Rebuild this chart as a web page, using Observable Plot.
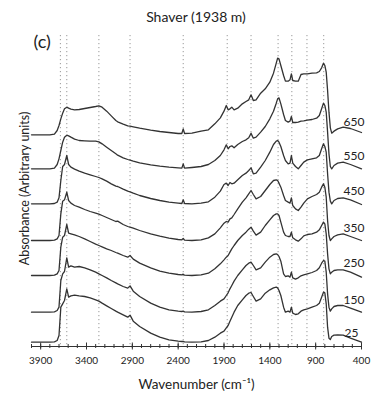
<!DOCTYPE html>
<html><head><meta charset="utf-8">
<script src="https://cdn.jsdelivr.net/npm/d3@7"></script>
<script src="https://cdn.jsdelivr.net/npm/@observablehq/plot@0.6"></script>
<style>
html,body{margin:0;padding:0;background:#fff;}
#title{box-sizing:border-box;width:376px;height:30px;padding:8px 0 0 16px;text-align:center;font-family:Lato,sans-serif;font-size:14px;line-height:18px;color:#222;}
#chart svg{display:block;}
</style></head><body>
<div id="title">Shaver (1938 m)</div>
<div id="chart"></div>
<script>
const wavenumbers = [4000,3800,3750,3720,3700,3680,3660,3640,3615,3595,
  3570,3530,3480,3420,3360,3300,3265,3230,3180,3130,
  3080,3060,3000,2950,2925,2890,2820,2700,2600,2500,
  2400,2360,2345,2330,2250,2150,2070,2000,1940,1900,
  1875,1855,1835,1815,1790,1750,1700,1660,1630,1605,
  1580,1550,1500,1450,1400,1360,1330,1315,1300,1280,
  1250,1230,1200,1180,1165,1150,1120,1090,1060,1030,
  990,940,890,860,835,815,800,785,770,755,
  740,725,700,660,600,520,400];

const temps = ["650","550","450","350","250","150","25"];
const offsets = [635,533,428,318,213,103,13];

const s650 = [0,0,2,13,28,48,65,78,83,80,
  77,75,76,79,82,85,87,83,71,57,
  43,39,32,27,26,24,20,14,10,7,
  4,4,18,4,5,11,15,33,51,71,
  88,75,78,83,75,80,93,100,105,120,
  103,105,125,138,158,185,215,230,228,208,
  178,161,161,165,183,163,161,161,181,183,
  183,185,186,190,201,215,208,188,133,68,
  21,5,11,18,23,19,7];
const s550 = [0,0,2,13,30,55,80,95,101,99,
  95,89,85,84,83,83,81,75,65,55,
  45,41,33,28,26,23,18,12,8,5,
  3,2,15,2,4,7,13,25,40,57,
  72,60,67,69,63,73,82,87,93,107,
  92,95,110,127,150,173,197,210,213,195,
  163,145,140,143,157,139,139,140,143,144,
  146,148,152,160,180,197,190,170,110,45,
  7,0,10,17,20,13,0];
const s450 = [0,0,1,5,18,70,112,118,145,118,
  110,104,98,92,87,82,79,75,68,60,
  53,52,44,38,36,32,25,16,10,5,
  2,1,12,1,0,2,6,20,38,58,
  62,55,64,60,62,72,85,92,100,108,
  90,92,110,130,155,178,188,190,185,172,
  145,130,120,122,145,122,112,105,115,125,
  132,135,138,145,165,180,172,155,90,35,
  8,0,10,16,18,12,-2];
const s350 = [0,0,1,5,15,80,118,122,145,120,
  112,105,100,93,87,82,79,75,69,63,
  57,58,48,42,40,37,30,20,13,7,
  3,2,6,1,0,2,8,20,38,52,
  57,55,65,68,78,95,115,128,140,150,
  138,125,132,150,168,180,182,180,172,160,
  135,120,115,112,128,105,95,90,100,112,
  125,132,138,145,160,170,160,130,60,15,
  0,5,12,17,20,12,0];
const s250 = [0,0,1,5,15,85,115,120,153,127,
  125,122,117,110,102,94,90,86,80,75,
  69,67,60,55,60,49,37,23,13,7,
  3,2,4,1,0,2,7,20,35,47,
  55,60,70,80,90,105,120,130,139,145,
  133,121,130,150,167,180,185,185,180,160,
  130,120,117,117,130,113,107,103,110,119,
  123,125,130,137,150,160,155,125,65,20,
  5,10,15,17,17,10,-5];
const s150 = [0,0,1,5,15,95,115,122,163,135,
  139,135,137,133,127,120,115,110,103,95,
  88,85,77,72,79,63,47,27,15,7,
  3,2,3,1,0,2,7,20,33,40,
  50,58,70,80,93,110,127,140,147,150,
  140,127,133,150,165,173,175,173,167,153,
  115,107,109,105,120,103,99,103,109,112,
  115,119,125,133,147,155,153,120,55,15,
  3,10,17,20,20,12,0];
const s25 = [0,0,1,5,20,105,115,125,160,135,
  139,141,139,137,133,127,123,117,109,101,
  93,90,82,75,81,63,47,27,15,7,
  3,2,2,1,0,1,5,15,27,33,
  43,50,63,75,90,110,127,140,147,149,
  137,123,130,147,157,163,165,163,155,140,
  105,90,93,90,105,87,83,85,93,97,
  100,105,110,117,135,150,148,115,45,12,
  8,17,21,22,21,12,0];

const referenceLines = [3685,3615,3265,2925,2345,1865,1605,1310,1160,995,812];
const majorTicks = [3900,3400,2900,2400,1900,1400,900,400];
const minorTicks = d3.range(4000, 399, -100);

const series = [s650, s550, s450, s350, s250, s150, s25];
const rows = temps.flatMap((t, i) => series[i].map((v, j) => ({temp: t, wavenumber: wavenumbers[j], absorbance: v + offsets[i]})));
const lastW = wavenumbers[wavenumbers.length - 1];
const labelRows = temps.map((t, i) => ({temp: t, wavenumber: lastW, level: offsets[i]}));

const chart = Plot.plot({
  width: 376, height: 366,
  marginLeft: 31, marginRight: 15, marginTop: 5, marginBottom: 50,
  x: {domain: [4000, 400], label: null},
  y: {domain: [0, 933], axis: null, label: null},
  style: {fontFamily: "Lato, sans-serif", color: "#222", background: "white", overflow: "visible"},
  marks: [
    Plot.ruleX(referenceLines, {stroke: "#999", strokeWidth: 1, strokeDasharray: "1.2,2.8"}),
    Plot.ruleY([0], {stroke: "#333", strokeWidth: 1}),
    Plot.axisX(minorTicks, {tickSize: 4, dy: -2, tickFormat: () => "", stroke: "#333", label: null}),
    Plot.axisX(majorTicks, {tickSize: 7, dy: -3.5, tickPadding: 7, tickFormat: d => `${d}`, fontSize: 10, stroke: "#333", fill: "#222", label: null}),
    Plot.line(rows, {x: "wavenumber", y: "absorbance", z: "temp", stroke: "#333", strokeWidth: 1.3, strokeLinejoin: "round"}),
    Plot.text(labelRows.filter(d => d.temp !== "25"), {x: "wavenumber", y: "level", text: "temp", textAnchor: "end", dx: 3, dy: -12.5, fontSize: 12, fill: "#222"}),
    Plot.text(labelRows.filter(d => d.temp === "25"), {x: "wavenumber", y: "level", text: "temp", textAnchor: "end", dx: -3, dy: -9, fontSize: 12, fill: "#222"}),
    Plot.text(["(c)"], {frameAnchor: "top-left", textAnchor: "start", lineAnchor: "middle", dx: 2, dy: 7, fontSize: 18, fill: "#222"}),
    Plot.text(["Absorbance (Arbitrary units)"], {frameAnchor: "left", textAnchor: "middle", lineAnchor: "middle", rotate: -90, dx: -7, dy: -2.5, fontSize: 12.5, fill: "#222"}),
    Plot.text(["Wavenumber (cm⁻¹)"], {frameAnchor: "bottom", textAnchor: "middle", lineAnchor: "middle", dy: 38, fontSize: 13.5, fill: "#222"})
  ]
});
document.getElementById("chart").appendChild(chart);
</script></body></html>
